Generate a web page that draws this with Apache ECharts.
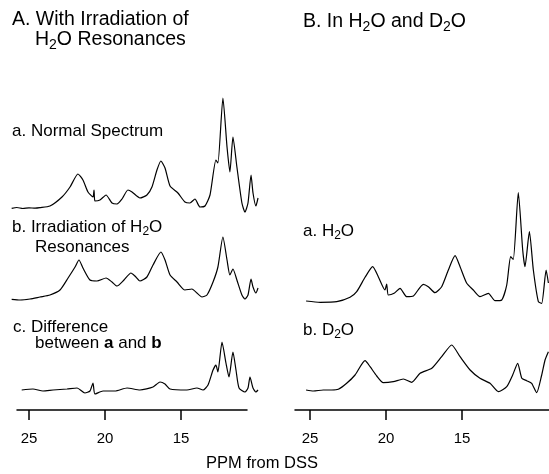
<!DOCTYPE html>
<html>
<head>
<meta charset="utf-8">
<script src="https://cdn.jsdelivr.net/npm/echarts@6/dist/echarts.min.js"></script>
<style>
  html, body { margin: 0; padding: 0; background: #fff; }
  #chart { width: 549px; height: 474px; }
</style>
</head>
<body>
<div id="chart"></div>
<script>
// spectra: [ppm, intensity (arbitrary units)]
const normalSpectrum = [[26.14,6.7],[25.8,7.5],[25.4,6.5],[25.0,7.2],[24.6,6.8],[24.28,7.3],[23.62,9],[22.83,18],[22.30,28],[21.78,41],[21.45,35],[21.12,23],[20.79,18],[20.72,25],[20.66,14],[20.33,15],[19.93,20],[19.54,12],[19.21,11],[18.88,16],[18.49,25],[18.22,23],[17.70,17],[17.24,20],[16.91,28],[16.58,45],[16.32,54],[16.05,47],[15.72,29],[15.20,22],[14.74,13],[14.41,12],[14.08,16],[13.75,8],[13.42,9],[13.09,20],[12.70,55],[12.57,52],[12.24,117],[11.97,68],[11.78,43],[11.58,78],[11.32,48],[10.99,12],[10.79,3],[10.59,12],[10.39,40],[10.26,22],[10.07,9],[9.93,17]]
const irradiated = [[26.14,5.7],[25.59,5],[24.93,6],[24.28,8],[23.62,10],[22.96,15],[22.43,27],[21.97,38],[21.71,45],[21.45,37],[20.99,25],[20.53,24],[19.93,27],[19.54,23],[19.21,19],[18.75,25],[18.29,32],[18.03,29],[17.70,24],[17.24,28],[16.84,40],[16.32,53],[16.05,45],[15.72,30],[15.26,23],[14.74,15],[14.28,16],[13.95,12],[13.62,8],[13.29,10],[12.89,23],[12.57,38],[12.24,68],[11.97,45],[11.78,30],[11.58,36],[11.32,25],[10.99,10],[10.79,6],[10.59,10],[10.39,26],[10.26,18],[10.07,12],[9.93,17]]
const difference = [[25.48,5],[24.74,6],[24.08,4],[23.42,5],[22.50,6],[21.84,7],[21.32,2],[20.99,4],[20.79,12],[20.66,1],[20.13,4],[19.34,4],[18.55,7],[17.70,5],[16.84,8],[16.38,13],[16.05,11],[15.72,6],[14.61,5],[13.95,7],[13.55,5],[13.22,10],[12.89,25],[12.70,30],[12.57,23],[12.30,53],[12.04,32],[11.84,18],[11.58,43],[11.38,25],[11.18,7],[10.79,3],[10.59,7],[10.46,18],[10.26,7],[10.07,3],[9.93,5]]
const inH2O = [[25.26,4],[24.34,2.7],[23.24,3.3],[22.37,7.7],[21.93,13.3],[21.38,27.7],[20.88,38.3],[20.51,28.3],[20.07,15],[19.96,21],[19.85,10],[19.47,11.7],[19.08,16.7],[18.64,8.3],[18.20,9],[17.55,20.7],[17.22,18.3],[16.78,12.3],[16.34,18.3],[15.90,35],[15.46,49.3],[15.13,38.3],[14.69,21.7],[14.26,15],[13.82,8.3],[13.27,11.7],[12.83,4.3],[12.39,5],[12.06,20],[11.80,48.3],[11.63,45.7],[11.30,112.3],[11.01,55],[10.86,38.3],[10.57,73.3],[10.31,35],[9.98,3.3],[9.76,1.7],[9.47,35],[9.32,22]]
const inD2O = [[25.26,5],[24.78,4],[24.13,5],[23.57,5],[23.14,5.7],[22.59,11.7],[22.04,20],[21.38,34.3],[21.05,28.3],[20.61,19],[20.18,12.3],[19.52,13.3],[18.86,16],[18.31,12.7],[17.76,21.7],[16.99,26.7],[16.34,38.3],[15.68,50],[15.13,38.3],[14.47,25],[13.82,16.7],[13.16,11.7],[12.61,3.3],[12.06,8.3],[11.67,20],[11.34,31.7],[11.07,16.7],[10.75,14.3],[10.42,11.7],[10.09,2.3],[9.76,20],[9.54,35],[9.32,43.3]]
const tickPpm = [25, 20, 15]

const FONT = '"Liberation Sans", Arial, Helvetica, sans-serif'
const INK = '#000'

const chart = echarts.init(document.getElementById('chart'))

// spectrum panels: grid box + x range (ppm, reversed)
const panels = [
  { data: normalSpectrum, left: 10, width: 250, top: 95, height: 120, xmin: 9.80, xmax: 26.25 },
  { data: irradiated, left: 10, width: 250, top: 225, height: 80, xmin: 9.80, xmax: 26.25 },
  { data: difference, left: 10, width: 250, top: 335, height: 60, xmin: 9.80, xmax: 26.25 },
  { data: inH2O, left: 300, width: 249, top: 185, height: 120, xmin: 9.28, xmax: 25.66 },
  { data: inD2O, left: 300, width: 249, top: 335, height: 60, xmin: 9.28, xmax: 25.66 }
]
// axis-only grids at the bottom
const axes = [
  { left: 17, width: 230, xmin: 10.66, xmax: 25.79 },
  { left: 295, width: 254, xmin: 9.28, xmax: 25.99 }
]

const grids = [], xAxes = [], yAxes = [], series = []
panels.forEach((p, i) => {
  grids.push({ left: p.left, top: p.top, width: p.width, height: p.height, outerBoundsMode: 'none' })
  xAxes.push({ gridIndex: i, type: 'value', inverse: true, min: p.xmin, max: p.xmax, show: false })
  yAxes.push({ gridIndex: i, type: 'value', min: 0, max: p.height, show: false })
  series.push({
    type: 'line', xAxisIndex: i, yAxisIndex: i, data: p.data,
    showSymbol: false, smooth: 0.2,
    lineStyle: { color: INK, width: 1.2 }
  })
})
axes.forEach((a) => {
  const gi = grids.length
  grids.push({ left: a.left, top: 409, width: a.width, height: 1, outerBoundsMode: 'none' })
  xAxes.push({
    gridIndex: gi, type: 'value', inverse: true, min: a.xmin, max: a.xmax,
    axisLine: { lineStyle: { color: INK, width: 1.5 } },
    axisTick: { customValues: tickPpm, length: 10, lineStyle: { color: INK, width: 1.5 } },
    axisLabel: { customValues: tickPpm, margin: 21, fontSize: 15, color: INK, fontFamily: FONT },
    splitLine: { show: false }
  })
  yAxes.push({ gridIndex: gi, type: 'value', show: false })
})

const txt = (x, y, text, size, extra) => ({
  type: 'text', x, y, silent: true,
  style: Object.assign({
    text, fontFamily: FONT, fontSize: size, fill: INK, verticalAlign: 'middle',
    rich: {
      s: { fontFamily: FONT, fontSize: Math.round(size * 0.7), fill: INK, padding: [Math.round(size * 0.5), 0, 0, 0] },
      b: { fontFamily: FONT, fontSize: size, fill: INK, fontWeight: 'bold' }
    }
  }, extra || {})
})

chart.setOption({
  animation: false,
  backgroundColor: '#fff',
  grid: grids,
  xAxis: xAxes,
  yAxis: yAxes,
  series,
  graphic: [
    txt(12, 20, 'A. With Irradiation of', 19.5),
    txt(35, 40, 'H{s|2}O Resonances', 19.5),
    txt(303, 22, 'B. In H{s|2}O and D{s|2}O', 19.5),
    txt(12, 131, 'a. Normal Spectrum', 17),
    txt(12, 227, 'b. Irradiation of H{s|2}O', 17),
    txt(35, 247, 'Resonances', 17),
    txt(13, 327, 'c. Difference', 17),
    txt(35, 343, 'between {b|a} and {b|b}', 17),
    txt(303, 231, 'a. H{s|2}O', 17),
    txt(303, 330, 'b. D{s|2}O', 17),
    txt(262, 463, 'PPM from DSS', 16.5, { align: 'center' })
  ]
})
</script>
</body>
</html>
